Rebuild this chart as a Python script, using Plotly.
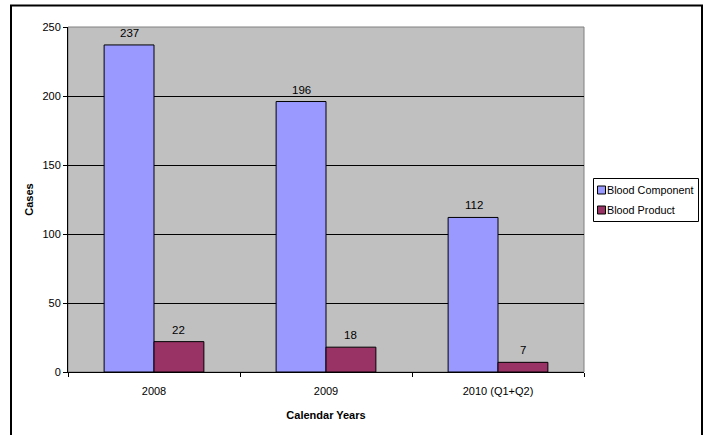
import plotly.graph_objects as go

categories = ["2008", "2009", "2010 (Q1+Q2)"]
blood_component = [237, 196, 112]
blood_product = [22, 18, 7]
y_ticks = [0, 50, 100, 150, 200, 250]
series_names = ["Blood Component", "Blood Product"]
series_colors = ["#9999FF", "#993366"]

W, H = 706, 435
L, R, T, B = 68, 584, 27, 372

fig = go.Figure()
for name, vals, col in zip(series_names, [blood_component, blood_product], series_colors):
    fig.add_trace(go.Bar(name=name, x=categories, y=vals,
                         marker=dict(color=col, line=dict(color="#000000", width=1))))

pw = R - L
ph = B - T
def px(x):
    return (x - L) / pw
def py(y):
    return (B - y) / ph

shapes = [
    dict(type="rect", xref="paper", yref="paper", x0=0, x1=1, y0=0, y1=1,
         line=dict(color="#808080", width=1), layer="below"),
    dict(type="rect", xref="paper", yref="paper", x0=px(11), x1=px(702),
         y0=py(440), y1=py(5.5), line=dict(color="black", width=2)),
    # legend box
    dict(type="rect", xref="paper", yref="paper", x0=px(593.5), x1=px(698.5),
         y0=py(221.5), y1=py(178.5), line=dict(color="black", width=1),
         fillcolor="white"),
]
annotations = []
# data labels, positioned through the axes' scales (category index on the x axis)
for vals, xs in zip([blood_component, blood_product], [-24.5, 24.5]):
    for i, v in enumerate(vals):
        annotations.append(dict(text=str(v), x=i, y=v, xref="x", yref="y",
                                xanchor="center", yanchor="bottom", xshift=xs, yshift=4,
                                showarrow=False, font=dict(size=11.5, color="black")))
legend_rows = [190, 210]
for name, col, yc in zip(series_names, series_colors, legend_rows):
    shapes.append(dict(type="rect", xref="paper", yref="paper",
                       x0=px(597.5), x1=px(605.5), y0=py(yc + 4), y1=py(yc - 4),
                       line=dict(color="black", width=1), fillcolor=col))
    annotations.append(dict(text=name, xref="paper", yref="paper", x=px(605), y=py(yc),
                            xanchor="left", yanchor="middle", showarrow=False,
                            font=dict(size=10.8, color="black")))

fig.update_layout(
    width=W, height=H,
    margin=dict(l=L, r=W - R, t=T, b=H - B, pad=0, autoexpand=False),
    paper_bgcolor="white", plot_bgcolor="#C0C0C0",
    barmode="group", bargap=0.42, bargroupgap=0,
    font=dict(family="Liberation Sans, Arial, sans-serif", size=11, color="black"),
    showlegend=False,
    xaxis=dict(type="category", categoryorder="array", categoryarray=categories,
               showline=True, linecolor="black", linewidth=1, ticks="outside",
               tickson="boundaries", ticklen=4, tickcolor="black", tickangle=0,
               ticklabelstandoff=9,
               title=dict(text="<b>Calendar Years</b>", font=dict(size=11), standoff=15),
               showgrid=False),
    yaxis=dict(range=[0, 250], tickvals=y_ticks, showline=True, linecolor="black",
               linewidth=1, ticks="outside", ticklen=4, tickcolor="black",
               gridcolor="black", gridwidth=1, zeroline=False,
               title=dict(text="<b>Cases</b>", font=dict(size=11), standoff=6)),
    shapes=shapes,
    annotations=annotations,
)

fig.write_html("out.html")
